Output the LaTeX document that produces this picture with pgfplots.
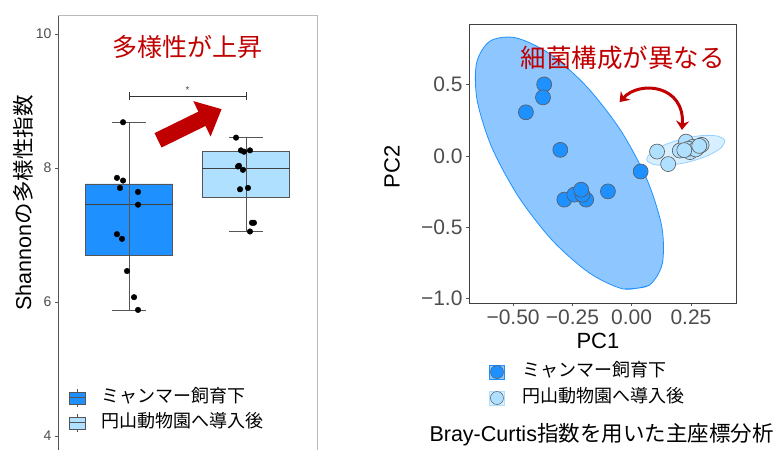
\documentclass[border=0pt]{standalone}
\usepackage{fontspec}
\setmainfont{Liberation Sans}
\newfontfamily\jp{Noto Sans CJK JP}
\usepackage{pgfplots}
\pgfplotsset{compat=1.18}
\usetikzlibrary{arrows.meta}
\definecolor{dblue}{RGB}{30,144,255}
\definecolor{lblue}{RGB}{176,224,255}
\definecolor{dred}{RGB}{192,0,0}
\definecolor{tgray}{RGB}{77,77,77}
\definecolor{bgray}{RGB}{85,85,85}

\begin{document}
\begin{tikzpicture}[x=1pt,y=1pt]
\path[use as bounding box] (0,0) rectangle (779,450);
% ---------------- left: box plot ----------------
\begin{axis}[
  at={(58pt,0pt)}, anchor=south west,
  scale only axis, width=259pt, height=435pt,
  xmin=0.393, xmax=2.607, ymin=3.79, ymax=10.28,
  axis line style={draw=none},
  xtick=\empty, ytick={4,6,8,10},
  ytick pos=left, tick align=outside,
  major tick length=3pt,
  tick style={bgray, line width=0.5pt},
  /pgf/number format/assume math mode=true,
  yticklabel style={font=\fontsize{14}{14}\selectfont, text=tgray},
  ylabel={Shannon{\jp の多様性指数}},
  ylabel style={font=\fontsize{21.5}{21.5}\selectfont, at={(axis description cs:-0.135,0.568)}, anchor=center},
  clip=false,
  legend style={at={(0.031,0.091)}, anchor=west, draw=none, fill=none,
    font=\jp\fontsize{18}{18}\selectfont,
    nodes={inner sep=2pt, text height=13pt, text depth=4pt},
    row sep=4pt, legend cell align=left,
    /tikz/every odd column/.append style={column sep=13pt}},
]
\draw[bgray, line width=0.8pt] (rel axis cs:0,0) -- (rel axis cs:0,1);
\draw[gray!55, line width=0.6pt] (rel axis cs:0,1) -- (rel axis cs:1,1) -- (rel axis cs:1,0);

\addlegendimage{legend image code/.code={
  \draw[bgray, line width=0.6pt] (8pt,-9pt) -- (8pt,9pt);
  \draw[bgray, fill=dblue, line width=0.6pt] (0pt,-6pt) rectangle (16pt,6pt);
  \draw[bgray, line width=1pt] (0pt,0pt) -- (16pt,0pt);}}
\addlegendentry{ミャンマー飼育下}
\addlegendimage{legend image code/.code={
  \draw[bgray, line width=0.6pt] (8pt,-9pt) -- (8pt,9pt);
  \draw[bgray, fill=lblue, line width=0.6pt] (0pt,-6pt) rectangle (16pt,6pt);
  \draw[bgray, line width=1pt] (0pt,0pt) -- (16pt,0pt);}}
\addlegendentry{円山動物園へ導入後}

% boxes (Q1 to Q3)
\addplot[forget plot, draw=bgray, fill=dblue, line width=0.8pt] coordinates {
 (0.625,6.70) (1.375,6.70) (1.375,7.76) (0.625,7.76) (0.625,6.70)};
\addplot[forget plot, draw=bgray, fill=lblue, line width=0.8pt] coordinates {
 (1.625,7.56) (2.375,7.56) (2.375,8.24) (1.625,8.24) (1.625,7.56)};
% medians
\addplot[forget plot, black!75, line width=1.6pt] coordinates {(0.625,7.45) (1.375,7.45)};
\addplot[forget plot, black!75, line width=1.6pt] coordinates {(1.625,7.99) (2.375,7.99)};
% error bars (whiskers)
\addplot[forget plot, bgray, line width=0.8pt] coordinates {(1,5.88) (1,8.68)};
\addplot[forget plot, bgray, line width=0.8pt] coordinates {(0.855,8.68) (1.145,8.68)};
\addplot[forget plot, bgray, line width=0.8pt] coordinates {(0.855,5.88) (1.145,5.88)};
\addplot[forget plot, bgray, line width=0.8pt] coordinates {(2,7.05) (2,8.45)};
\addplot[forget plot, bgray, line width=0.8pt] coordinates {(1.855,8.45) (2.145,8.45)};
\addplot[forget plot, bgray, line width=0.8pt] coordinates {(1.855,7.05) (2.145,7.05)};
% jittered points
\addplot[forget plot, only marks, mark=*, mark size=2.8pt, black] coordinates {
 (0.949,8.68) (0.897,7.85) (0.949,7.81) (0.923,7.70) (1.077,7.64) (1.077,7.45)
 (0.897,7.01) (0.940,6.94) (0.983,6.46) (1.043,6.07) (1.077,5.88)};
\addplot[forget plot, only marks, mark=*, mark size=2.8pt, black] coordinates {
 (1.915,8.45) (1.957,8.26) (1.983,8.24) (2.034,8.26) (1.932,8.02) (1.940,8.03)
 (1.974,7.97) (1.949,7.68) (2.017,7.70) (2.051,7.18) (2.068,7.18) (2.034,7.05)};
% significance bracket
\addplot[forget plot, black!80, line width=0.8pt] coordinates {(1,9.13) (1,9.01)};
\addplot[forget plot, black!80, line width=0.8pt] coordinates {(1,9.07) (2,9.07)};
\addplot[forget plot, black!80, line width=0.8pt] coordinates {(2,9.13) (2,9.01)};
\node[text=tgray, font=\fontsize{10}{10}\selectfont] at (axis cs:1.5,9.16) {*};
% annotations
\draw[dred, line width=16pt, -{Triangle[length=22pt, width=38pt]}]
  (axis cs:1.248,8.41) -- (axis cs:1.792,8.876);
\node[text=dred, font=\jp\fontsize{25}{25}\selectfont] at (axis cs:1.504,9.81) {多様性が上昇};
\end{axis}

% ---------------- right: PCoA ----------------
\begin{axis}[
  at={(469pt,147pt)}, anchor=south west,
  scale only axis, width=267pt, height=279pt,
  xmin=-0.686, xmax=0.44, ymin=-1.035, ymax=0.927,
  xtick={-0.5,-0.25,0,0.25}, xticklabels={−0.50,−0.25,0.00,0.25},
  ytick={-1,-0.5,0,0.5}, yticklabels={−1.0,−0.5,0.0,0.5},
  axis line style={black!75, line width=0.8pt},
  xtick pos=bottom, ytick pos=left, tick align=outside,
  major tick length=3pt,
  tick style={bgray, line width=0.5pt},
  ticklabel style={font=\fontsize{21}{21}\selectfont, text=tgray},
  xlabel={PC1}, ylabel={PC2},
  xlabel style={font=\fontsize{22}{22}\selectfont, at={(axis description cs:0.483,-0.136)}, anchor=center},
  ylabel style={font=\fontsize{22}{22}\selectfont, at={(axis description cs:-0.288,0.487)}, anchor=center},
  clip=false,
  legend style={at={(0.064,-0.294)}, anchor=west, draw=none, fill=none,
    font=\jp\fontsize{18}{18}\selectfont,
    nodes={inner sep=2pt, text height=13pt, text depth=4pt},
    row sep=5pt, legend cell align=left,
    /tikz/every odd column/.append style={column sep=16pt}},
]
\addlegendimage{legend image code/.code={
  \fill[dblue, fill opacity=0.5] (0pt,-7pt) rectangle (15pt,7pt);
  \draw[fill=dblue, draw=black!65, line width=0.5pt] (7.5pt,0pt) circle (6.5pt);}}
\addlegendentry{ミャンマー飼育下}
\addlegendimage{legend image code/.code={
  \fill[lblue, fill opacity=0.5] (0pt,-7pt) rectangle (15pt,7pt);
  \draw[fill=lblue, draw=black!65, line width=0.5pt] (7.5pt,0pt) circle (6.5pt);}}
\addlegendentry{円山動物園へ導入後}

% ellipses
\addplot[forget plot, smooth, fill=dblue, fill opacity=0.5, draw=dblue, line width=0.8pt] coordinates {
 (0.072,-0.912) (-0.036,-0.936) (-0.179,-0.823) (-0.335,-0.594) (-0.479,-0.283)
 (-0.591,0.064) (-0.652,0.393) (-0.654,0.654) (-0.597,0.807) (-0.489,0.830)
 (-0.346,0.718) (-0.191,0.489) (-0.046,0.178) (0.065,-0.169) (0.127,-0.498)
 (0.129,-0.759) (0.072,-0.912) (-0.036,-0.936)};
\addplot[forget plot, smooth, fill=lblue, fill opacity=0.5, draw=lblue!80!dblue, line width=0.8pt] coordinates {
 (0.393,0.106) (0.377,0.056) (0.322,0.002) (0.241,-0.043) (0.157,-0.066) (0.093,-0.061)
 (0.064,-0.029) (0.080,0.021) (0.136,0.075) (0.217,0.120) (0.300,0.143) (0.365,0.138)
 (0.393,0.106) (0.377,0.056)};
% points
\addplot[forget plot, only marks, mark=*, mark size=7.5pt,
  mark options={fill=dblue, draw=black!65, line width=0.6pt}] coordinates {
 (-0.369,0.502) (-0.374,0.411) (-0.446,0.306) (-0.301,0.042) (0.038,-0.110)
 (-0.100,-0.250) (-0.284,-0.308) (-0.242,-0.273) (-0.192,-0.308) (-0.208,-0.273) (-0.213,-0.238)};
\addplot[forget plot, only marks, mark=*, mark size=7.5pt,
  mark options={fill=lblue, draw=black!65, line width=0.6pt}] coordinates {
 (0.107,0.030) (0.154,-0.058) (0.229,0.100) (0.203,0.037) (0.246,0.026) (0.258,0.063)
 (0.295,0.077) (0.281,0.061) (0.240,0.050) (0.270,0.045) (0.285,0.070) (0.222,0.040)};
% annotations
\node[text=dred, font=\jp\fontsize{25.5}{25.5}\selectfont] at (axis cs:-0.038,0.687) {細菌構成が異なる};
\draw[dred, line width=3pt, {Stealth[length=9pt,width=13pt]}-{Stealth[length=9pt,width=13pt]}]
  (axis cs:-0.051,0.378) .. controls (axis cs:0.034,0.533) and (axis cs:0.225,0.498) .. (axis cs:0.212,0.182);
\end{axis}

\node[font=\fontsize{21.5}{21.5}\selectfont, anchor=center] at (601.5,15) {Bray-Curtis{\jp 指数を用いた主座標分析}};
\end{tikzpicture}
\end{document}
